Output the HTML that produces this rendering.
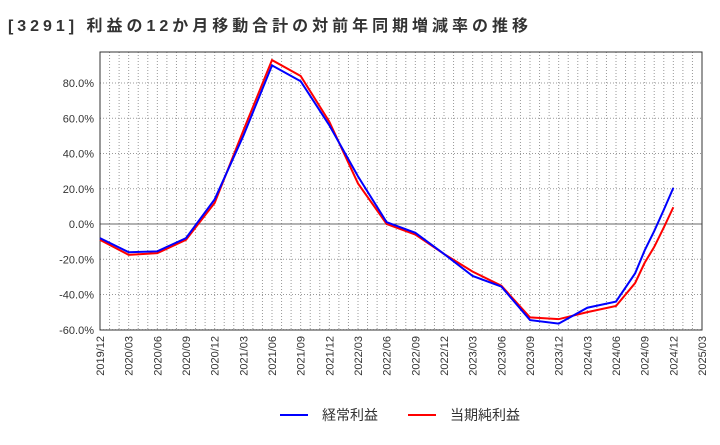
<!DOCTYPE html>
<html><head><meta charset="utf-8"><style>
body{margin:0;background:#fff;}
svg text{font-family:"Liberation Sans","Noto Sans CJK JP",sans-serif;}
</style></head><body>
<svg width="720" height="440" xmlns="http://www.w3.org/2000/svg">
<text x="8" y="31" font-size="16" font-weight="bold" fill="#333" textLength="520" lengthAdjust="spacing">[3291]  利益の12か月移動合計の対前年同期増減率の推移</text>
<g id="grid"></g>
<g id="axes"></g>
<g id="series"></g>
<g>
<g><line x1="280" y1="415" x2="308" y2="415" stroke="#0000ff" stroke-width="2"/><text x="322" y="420" font-size="14" fill="#333">経常利益</text></g>
<g><line x1="408" y1="415" x2="436" y2="415" stroke="#ff0000" stroke-width="2"/><text x="450" y="420" font-size="14" fill="#333">当期純利益</text></g>
</g>
</svg>
<script>
const tickLabels=["2019/12","2020/03","2020/06","2020/09","2020/12","2021/03","2021/06","2021/09","2021/12","2022/03","2022/06","2022/09","2022/12","2023/03","2023/06","2023/09","2023/12","2024/03","2024/06","2024/09","2024/12","2025/03"];
const yTicks=[80,60,40,20,0,-20,-40,-60];
const blueMonths=[0,3,6,9,12,15,18,21,24,27,30,33,36,39,42,45,48,51,54,56,57,58,59,60];
const blueValues=[-8,-16,-15.5,-8,14,50,90,81,56,27,1,-5,-17,-29.5,-35.5,-54.5,-56.5,-47.5,-44,-28,-15,-4,8,20.5];
const redMonths=[0,3,6,9,12,15,18,21,24,27,30,33,36,39,42,45,48,51,54,56,57,58,59,60];
const redValues=[-9,-17.5,-16.5,-9,12,53,93,84,58,23,0,-6,-17,-27,-35,-53,-54,-50,-46.5,-33.5,-22,-13,-2,9.5];
const L=100,R=702,T=52,B=330;
const x=m=>L+m*(R-L)/63;
const y=v=>224-v*1.7625;
const NS="http://www.w3.org/2000/svg";
function mk(p,tag,a){const e=document.createElementNS(NS,tag);for(const k in a)e.setAttribute(k,a[k]);p.appendChild(e);return e;}
const grid=document.getElementById('grid'),axes=document.getElementById('axes'),series=document.getElementById('series');
for(let m=1;m<63;m++){const l=mk(grid,'line',{x1:x(m),x2:x(m),y1:T,y2:B,stroke:'#999','stroke-dasharray':'1,2','stroke-width':1});

}
yTicks.forEach(v=>{const l=mk(grid,'line',{x1:L,x2:R,y1:y(v),y2:y(v),stroke:v===0?'#666':'#999','stroke-dasharray':v===0?'':'1,2','stroke-width':1});


const t=mk(axes,'text',{x:L-6,y:y(v)+4,'text-anchor':'end','font-size':11,fill:'#333'});t.textContent=v.toFixed(1)+'%';

});
const fr=mk(axes,'rect',{x:L,y:T,width:R-L,height:B-T,fill:'none',stroke:'#333','stroke-width':1});


tickLabels.forEach((s,i)=>{const xx=x(i*3);const t=mk(axes,'text',{x:xx+4,y:B+6,'text-anchor':'end','font-size':11,fill:'#333',transform:`rotate(-90 ${xx+4} ${B+6})`});t.textContent=s;

});
function line(ms,vs,c,n){const p=mk(series,'polyline',{points:ms.map((m,i)=>x(m)+','+y(vs[i])).join(' '),fill:'none',stroke:c,'stroke-width':2});

}
line(redMonths,redValues,'#ff0000','net-income-line');
line(blueMonths,blueValues,'#0000ff','ordinary-income-line');
</script>
</body></html>
